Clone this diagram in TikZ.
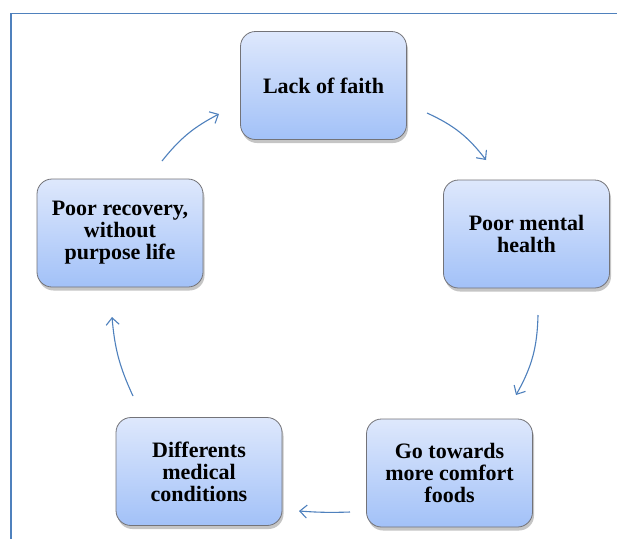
\documentclass[tikz,border=0pt]{standalone}
\usepackage{fontspec}
\setmainfont{Liberation Serif}
\usetikzlibrary{arrows.meta,shadows}
\definecolor{arrowblue}{RGB}{79,129,189}
\definecolor{boxtop}{RGB}{222,232,252}
\definecolor{boxbot}{RGB}{162,193,248}
\definecolor{boxline}{RGB}{115,115,120}
\tikzset{
  cyclebox/.style={rectangle, rounded corners=15pt, draw=boxline, line width=0.8pt,
    top color=boxtop, bottom color=boxbot,
    drop shadow={shadow xshift=1.5pt, shadow yshift=-3.5pt, opacity=0.45},
    minimum width=166pt, minimum height=108pt, align=center, inner sep=2pt,
    font=\fontsize{22}{22}\selectfont\bfseries},
  cyclearrow/.style={draw=arrowblue, line width=1.1pt,
    -{Straight Barb[length=7pt,width=13pt]}},
  frameline/.style={draw=arrowblue, line width=1.8pt}
}
\begin{document}
\begin{tikzpicture}[x=1pt,y=-1pt]
\useasboundingbox (0,0) rectangle (617,539);
\fill[white] (0,0) rectangle (617,539);
% frame
\coordinate (ftr) at (617,13.5);
\coordinate (ftl) at (11,13.5);
\coordinate (fbl) at (11,539);
\draw[frameline] (ftr) -- (ftl) -- (fbl);
% boxes
\node[cyclebox] (faith) at (323.5,85.5) {Lack of faith};
\node[cyclebox] (mental) at (526.5,234) {Poor mental\\health};
\node[cyclebox] (comfort) at (449.5,473) {Go towards\\more comfort\\foods};
\node[cyclebox] (medical) at (199,471.5) {Differents\\medical\\conditions};
\node[cyclebox] (recovery) at (120,233) {Poor recovery,\\without\\purpose life};
% arrow end points
\coordinate (a1s) at (427,113);
\coordinate (a1e) at (486,160);
\coordinate (a2s) at (538,315);
\coordinate (a2e) at (516,395);
\coordinate (a3s) at (350,512);
\coordinate (a3e) at (299,511);
\coordinate (a4s) at (133,396);
\coordinate (a4e) at (112,317);
\coordinate (a5s) at (162,161);
\coordinate (a5e) at (219,114);
\draw[cyclearrow] (a1s) to[bend left=14] (a1e);
\draw[cyclearrow] (a2s) to[bend left=14] (a2e);
\draw[cyclearrow] (a3s) to[bend left=3] (a3e);
\draw[cyclearrow] (a4s) to[bend left=10] (a4e);
\draw[cyclearrow] (a5s) to[bend left=12] (a5e);
\end{tikzpicture}
\end{document}
